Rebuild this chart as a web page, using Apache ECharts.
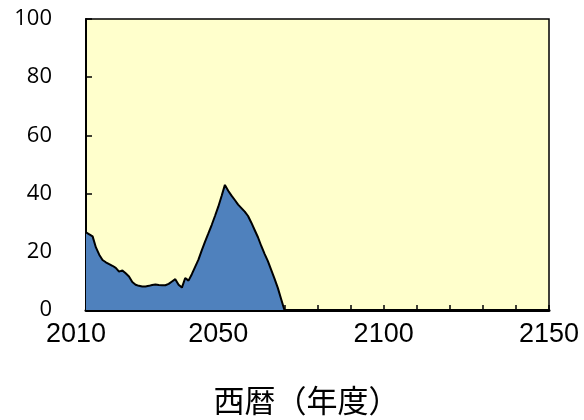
<!DOCTYPE html>
<html><head><meta charset="utf-8">
<script src="https://cdn.jsdelivr.net/npm/echarts@6/dist/echarts.min.js"></script>
<style>html,body{margin:0;padding:0;background:#fff}#c{width:584px;height:420px}</style>
</head><body><div id="c"></div>
<script>
const years = [];
for (let y = 2010; y <= 2070; y++) years.push(y);
const values = [26.7,26.0,25.3,21.5,19.0,17.2,16.4,15.8,15.2,14.5,
  13.2,13.6,12.6,11.5,9.6,8.7,8.3,8.1,8.1,8.3,
  8.6,8.8,8.6,8.5,8.5,9.0,9.8,10.6,8.7,7.7,
  11.0,10.1,12.3,14.8,17.3,20.5,23.5,26.3,29.2,32.3,
  35.5,39.2,43.0,41.0,39.3,37.8,36.2,35.0,33.8,32.3,
  30.0,27.5,25.0,22.0,19.3,16.8,13.8,10.8,7.6,3.8,0];
const xLabels = [2010, 2050, 2100, 2150];
const yTicks = [0, 20, 40, 60, 80, 100];
const xName = '西暦（年度）';

const chart = echarts.init(document.getElementById('c'), null, {renderer: 'canvas'});
chart.setOption({
  animation: false,
  grid: {left: 86, right: 35, top: 19, bottom: 110, show: true, containLabel: false,
    outerBoundsMode: 'none',
    backgroundColor: '#FFFFCC', borderColor: '#000', borderWidth: 1.5},
  xAxis: {
    type: 'value', min: 2010, max: 2150, interval: 10,
    name: xName, nameLocation: 'middle', nameGap: 75,
    nameTextStyle: {fontFamily: 'Noto Sans CJK JP', fontSize: 31, color: '#000', padding: [0, 22, 0, 0]},
    axisLine: {show: true, lineStyle: {color: '#000', width: 3}},
    axisTick: {show: true, inside: true, length: 5, lineStyle: {color: '#000', width: 1.5}},
    splitLine: {show: false},
    axisLabel: {
      fontFamily: 'Liberation Sans', fontSize: 27, color: '#000', margin: 11,
      formatter: v => v === 2010 ? '{a|2010}' : (xLabels.includes(v) ? String(v) : ''),
      rich: {a: {fontFamily: 'Liberation Sans', fontSize: 27, color: '#000', padding: [0, 20, 0, 0]}}
    }
  },
  yAxis: {
    type: 'value', min: 0, max: 100, interval: 20,
    axisLine: {show: true, lineStyle: {color: '#000', width: 2}},
    axisTick: {show: true, inside: true, length: 6, lineStyle: {color: '#000', width: 1.5}},
    splitLine: {show: false},
    axisLabel: {fontFamily: 'Open Sans', fontSize: 22, color: '#000', margin: 34,
      formatter: v => yTicks.includes(v) ? String(v) : ''}
  },
  series: [{
    type: 'line',
    data: years.map((y, i) => [y, values[i]]),
    showSymbol: false,
    lineStyle: {color: '#000', width: 2},
    areaStyle: {color: '#4F81BD', opacity: 1},
    z: 1
  }]
});
</script></body></html>
